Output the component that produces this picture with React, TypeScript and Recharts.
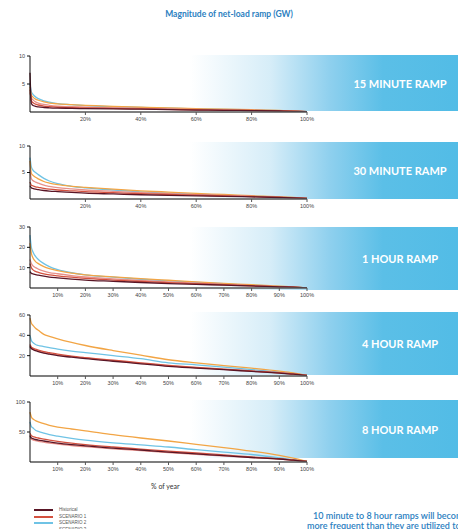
import { Line, LineChart, XAxis, YAxis } from "recharts";

// % of year (x positions of the duration curves)
const yearShare = [0, 0.5, 1, 2, 3, 5, 7, 10, 15, 20, 30, 40, 50, 60, 70, 80, 90, 95, 100];

const seriesNames = ["Historical", "SCENARIO 1", "SCENARIO 2", "SCENARIO 3", "SCENARIO 4"];
const seriesColors = ["#5a1626", "#d4513f", "#6fc3e5", "#f2a545", "#e8918a"];

// each panel: [historical, scenario 1, scenario 2, scenario 3, scenario 4]
const ramp15Min = [
  [7, 1.5, 1.2, 1.0, 0.9, 0.8, 0.75, 0.7, 0.65, 0.6, 0.55, 0.5, 0.42, 0.35, 0.3, 0.25, 0.18, 0.12, 0.05],
  [4, 2.0, 1.7, 1.4, 1.25, 1.05, 0.95, 0.85, 0.78, 0.72, 0.63, 0.56, 0.48, 0.4, 0.33, 0.27, 0.2, 0.14, 0.05],
  [5, 3.6, 3.2, 2.7, 2.4, 2.0, 1.75, 1.5, 1.3, 1.15, 0.95, 0.8, 0.68, 0.57, 0.47, 0.37, 0.25, 0.17, 0.05],
  [4.5, 3.0, 2.7, 2.3, 2.1, 1.8, 1.6, 1.45, 1.3, 1.2, 1.0, 0.85, 0.72, 0.6, 0.5, 0.4, 0.27, 0.18, 0.05],
  [3.5, 2.5, 2.2, 1.8, 1.6, 1.35, 1.2, 1.05, 0.95, 0.87, 0.75, 0.65, 0.55, 0.46, 0.38, 0.3, 0.22, 0.15, 0.05],
];

const ramp30Min = [
  [2.5, 2.1, 2.0, 1.85, 1.75, 1.6, 1.5, 1.4, 1.25, 1.1, 0.95, 0.8, 0.7, 0.6, 0.5, 0.4, 0.28, 0.2, 0.1],
  [3.2, 2.6, 2.5, 2.3, 2.2, 2.0, 1.85, 1.7, 1.55, 1.4, 1.2, 1.0, 0.85, 0.72, 0.6, 0.47, 0.32, 0.22, 0.1],
  [7.8, 6.0, 5.5, 5.0, 4.6, 3.9, 3.4, 2.9, 2.4, 2.1, 1.7, 1.35, 1.1, 0.9, 0.72, 0.55, 0.38, 0.25, 0.1],
  [7.2, 4.8, 4.5, 4.1, 3.8, 3.3, 3.0, 2.7, 2.4, 2.2, 1.85, 1.55, 1.3, 1.05, 0.85, 0.62, 0.42, 0.28, 0.1],
  [5.5, 3.8, 3.5, 3.2, 3.0, 2.6, 2.4, 2.15, 1.9, 1.7, 1.45, 1.2, 1.0, 0.82, 0.68, 0.52, 0.35, 0.24, 0.1],
];

const ramp1Hour = [
  [8, 7.2, 7.0, 6.6, 6.3, 5.8, 5.4, 5.0, 4.4, 3.9, 3.3, 2.7, 2.2, 1.8, 1.4, 1.0, 0.6, 0.4, 0.1],
  [12, 10, 9, 8.2, 7.7, 7.0, 6.5, 6.0, 5.3, 4.7, 3.9, 3.2, 2.6, 2.1, 1.6, 1.1, 0.6, 0.4, 0.1],
  [26, 20, 18, 15.5, 14, 12, 10.5, 9, 7.5, 6.5, 5.3, 4.3, 3.5, 2.8, 2.1, 1.4, 0.8, 0.5, 0.1],
  [22, 17, 15, 13, 12, 10.5, 9.5, 8.5, 7.3, 6.5, 5.5, 4.6, 3.8, 3.0, 2.3, 1.6, 0.9, 0.55, 0.1],
  [14, 12, 11, 10, 9.3, 8.3, 7.6, 7.0, 6.1, 5.4, 4.5, 3.7, 3.0, 2.4, 1.8, 1.2, 0.7, 0.45, 0.1],
];

const ramp4Hour = [
  [29, 27, 26, 25, 24, 22.5, 21.5, 20, 18.5, 17, 14.5, 12, 9.5, 7.8, 6.2, 4.5, 2.8, 1.8, 0.5],
  [31, 28.5, 27.5, 26.5, 25.5, 24, 23, 21.5, 19.5, 18, 15.5, 13, 10.5, 8.5, 6.8, 5, 3.2, 2, 0.5],
  [40, 35, 33, 31, 30, 29, 28, 26.5, 24.5, 23, 20, 17, 13, 11, 8.8, 6.3, 3.8, 2.4, 0.5],
  [57, 52, 50, 47, 45, 41, 39, 36.5, 33, 30, 25, 20.5, 16, 13, 10.3, 7.7, 4.8, 3, 0.5],
  [30, 27.5, 26.5, 25.5, 24.5, 23, 22, 20.5, 19, 17.5, 15, 12.5, 10, 8.1, 6.5, 4.7, 3, 1.9, 0.5],
];

const ramp8Hour = [
  [44, 40, 39, 37.5, 36.5, 35, 33.5, 31.5, 29, 27, 23, 20, 16.5, 13.5, 10.5, 7.5, 5, 3, 1],
  [48, 44, 42.5, 41, 40, 38, 36.5, 34.5, 31.5, 29, 25, 21.5, 18, 15, 11.8, 8.5, 5.5, 3.3, 1],
  [67, 59, 57, 53, 51, 48, 45.5, 43, 39.5, 36.5, 32, 28.5, 25, 20.5, 16.5, 12.5, 7, 4, 1],
  [83, 75, 72, 69, 67, 64, 61, 58, 55, 52, 45.5, 40, 35, 29.5, 24, 18, 11, 6.5, 1],
  [41, 38, 37, 35.5, 34.5, 33, 31.5, 30, 27.5, 25.5, 22, 19, 15.8, 12.8, 10, 7.2, 4.7, 2.8, 1],
];

const coarseTicks = [20, 40, 60, 80, 100];
const fineTicks = [10, 20, 30, 40, 50, 60, 70, 80, 90, 100];

const panels = [
  { label: "15 MINUTE RAMP", values: ramp15Min, max: 10, yTicks: [5, 10], xTicks: coarseTicks, top: 56, bottom: 112, bandTop: 55, bandBottom: 111 },
  { label: "30 MINUTE RAMP", values: ramp30Min, max: 10, yTicks: [5, 10], xTicks: coarseTicks, top: 146, bottom: 199, bandTop: 142, bandBottom: 199 },
  { label: "1 HOUR RAMP", values: ramp1Hour, max: 30, yTicks: [10, 20, 30], xTicks: fineTicks, top: 227, bottom: 288, bandTop: 227, bandBottom: 290 },
  { label: "4 HOUR RAMP", values: ramp4Hour, max: 60, yTicks: [20, 40, 60], xTicks: fineTicks, top: 315, bottom: 376, bandTop: 312, bandBottom: 375 },
  { label: "8 HOUR RAMP", values: ramp8Hour, max: 100, yTicks: [50, 100], xTicks: fineTicks, top: 402, bottom: 462, bandTop: 400, bandBottom: 458 },
];

// draw the historical line last so it sits on top
const drawOrder = [2, 3, 4, 1, 0];

const blue = "#2b80bf";
const font = "Lato, 'Open Sans', sans-serif";
const tickStyle = { fontSize: 5.5, fill: "#444", fontFamily: "Arial, sans-serif" };

function RampPanel({ panel }: { panel: (typeof panels)[number] }) {
  const rows = yearShare.map((x, i) => {
    const row: Record<string, number> = { x };
    panel.values.forEach((vals, s) => (row[`s${s}`] = vals[i]));
    return row;
  });
  const marginTop = 6;
  const axisH = 18;
  const plotH = panel.bottom - panel.top;

  return (
    <>
      <div
        style={{
          position: "absolute",
          left: 190,
          top: panel.bandTop,
          width: 268,
          height: panel.bandBottom - panel.bandTop,
          background:
            "linear-gradient(to right, rgba(255,255,255,0) 0%, #d6edf8 30%, #8fd0ee 52%, #5bbfe7 72%, #52bce6 100%)",
        }}
      />
      <div
        style={{
          position: "absolute",
          left: 330,
          width: 140,
          top: panel.bandTop,
          height: panel.bandBottom - panel.bandTop,
          display: "flex",
          alignItems: "center",
          justifyContent: "center",
          color: "#fff",
          fontFamily: font,
          fontWeight: 700,
          fontSize: 11,
          whiteSpace: "nowrap",
        }}
      >
        {panel.label}
      </div>
      <div style={{ position: "absolute", left: 0, top: panel.top - marginTop }}>
        <LineChart
          width={320}
          height={marginTop + plotH + axisH}
          data={rows}
          margin={{ top: marginTop, right: 13, bottom: 0, left: 0 }}
        >
          <XAxis
            dataKey="x"
            type="number"
            domain={[0, 100]}
            ticks={panel.xTicks}
            interval={0}
            tickFormatter={(v) => `${v}%`}
            height={axisH}
            tickSize={3}
            axisLine={{ stroke: "#555", strokeWidth: 1.5 }}
            tickLine={{ stroke: "#555" }}
            tick={tickStyle}
          />
          <YAxis
            type="number"
            domain={[0, panel.max]}
            ticks={panel.yTicks}
            interval={0}
            width={30}
            tickSize={3}
            allowDataOverflow
            axisLine={{ stroke: "#111" }}
            tickLine={{ stroke: "#111" }}
            tick={tickStyle}
          />
          {drawOrder.map((s) => (
            <Line
              key={s}
              dataKey={`s${s}`}
              name={seriesNames[s]}
              type="monotone"
              stroke={seriesColors[s]}
              strokeWidth={1.3}
              dot={false}
              isAnimationActive={false}
            />
          ))}
        </LineChart>
      </div>
    </>
  );
}

const noteStyle = {
  position: "absolute" as const,
  color: blue,
  fontWeight: 600,
  fontSize: 9,
  lineHeight: "10px",
  whiteSpace: "nowrap" as const,
};

export default function App() {
  return (
    <div
      style={{
        position: "absolute",
        left: 0,
        top: 0,
        width: 458,
        height: 529,
        overflow: "hidden",
        background: "#fff",
        fontFamily: font,
      }}
    >
      <div
        style={{
          position: "absolute",
          top: 9,
          left: 0,
          width: 458,
          textAlign: "center",
          color: blue,
          fontWeight: 700,
          fontSize: 8.5,
        }}
      >
        Magnitude of net-load ramp (GW)
      </div>

      {panels.map((p) => (
        <RampPanel key={p.label} panel={p} />
      ))}

      <div style={{ position: "absolute", top: 482, left: 151, fontSize: 7, color: "#333" }}>% of year</div>

      {seriesNames.slice(0, 4).map((name, i) => (
        <div key={name} style={{ position: "absolute", left: 34, top: 508 + i * 6.5, display: "flex", alignItems: "center" }}>
          <div style={{ width: 19, height: 2, background: seriesColors[i] }} />
          <span style={{ marginLeft: 6, fontSize: 4.5, color: "#555", fontFamily: "Arial, sans-serif", lineHeight: "4px" }}>
            {name}
          </span>
        </div>
      ))}

      <div style={{ ...noteStyle, top: 511, left: 313 }}>10 minute to 8 hour ramps will become</div>
      <div style={{ ...noteStyle, top: 521, left: 307 }}>more frequent than they are utilized today</div>
    </div>
  );
}
